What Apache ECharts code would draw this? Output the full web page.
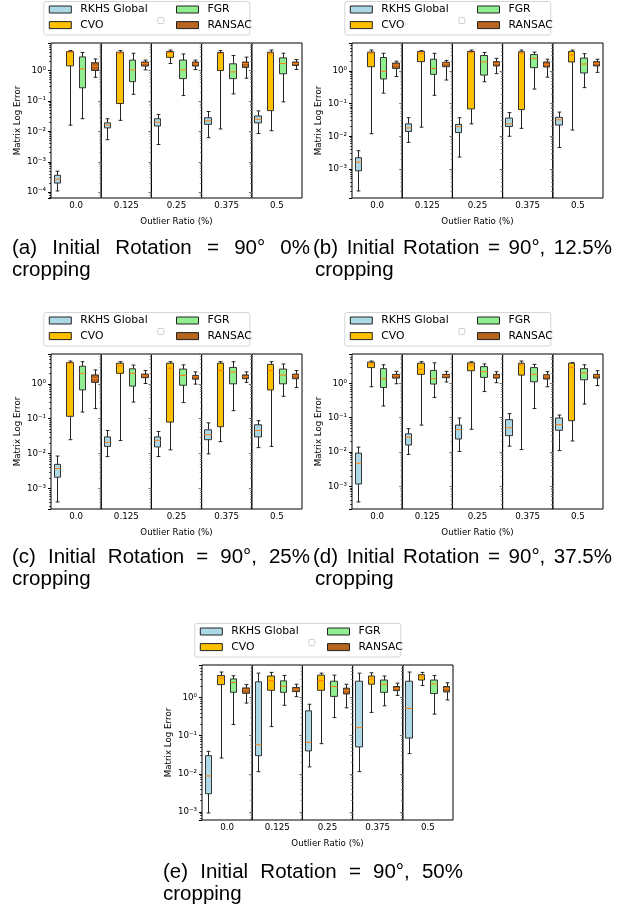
<!DOCTYPE html>
<html><head><meta charset="utf-8">
<script src="https://cdn.jsdelivr.net/npm/echarts@6/dist/echarts.min.js"></script>
<style>html,body{margin:0;padding:0;background:#fff}#c{width:618px;height:905px}</style>
</head><body><div id="c"></div>
<script>
// ---------- DATA ----------
const methods = ['RKHS Global', 'CVO', 'FGR', 'RANSAC'];
const ratioLabels = ['0.0', '0.125', '0.25', '0.375', '0.5'];
const xAxisTitle = 'Outlier Ratio (%)';
const yAxisTitle = 'Matrix Log Error';
// each box: [whiskerLow, Q1, median, Q3, whiskerHigh], one per outlier ratio
// (a) 0% cropping
const a_rkhs   = [[1.1e-4,2.0e-4,2.7e-4,3.6e-4,4.9e-4],[0.0053,0.013,0.016,0.019,0.026],[0.0037,0.015,0.020,0.026,0.036],[0.0062,0.017,0.022,0.028,0.045],[0.0085,0.019,0.025,0.032,0.047]];
const a_cvo    = [[0.016,1.42,4.0,4.2,4.5],[0.023,0.082,3.7,4.0,4.5],[1.7,2.7,3.9,4.2,4.7],[0.012,1.0,3.6,3.9,4.5],[0.0105,0.048,3.5,4.0,4.7]];
const a_fgr    = [[0.026,0.27,1.13,2.8,3.9],[0.165,0.43,1.05,2.2,3.7],[0.15,0.54,1.05,2.2,3.5],[0.17,0.54,0.9,1.66,3.1],[0.093,0.78,1.7,2.6,3.7]];
const a_ransac = [[0.6,1.0,1.4,1.8,2.4],[1.05,1.4,1.7,1.9,2.2],[1.08,1.4,1.66,1.9,2.2],[0.56,1.25,1.7,1.9,2.75],[1.08,1.46,1.7,1.9,2.3]];
// (b) 12.5% cropping
const b_rkhs   = [[2.1e-4,8.7e-4,1.6e-3,2.2e-3,3.6e-3],[0.0065,0.014,0.018,0.024,0.037],[0.0023,0.013,0.0196,0.023,0.037],[0.010,0.020,0.024,0.036,0.053],[0.0045,0.022,0.032,0.038,0.055]];
const b_cvo    = [[0.012,1.36,3.5,3.8,4.4],[0.019,1.94,3.5,4.0,4.2],[0.024,0.069,3.7,4.0,4.4],[0.0175,0.066,3.5,3.9,4.4],[0.0155,1.9,3.1,4.0,4.4]];
const b_fgr    = [[0.21,0.57,0.98,2.6,3.5],[0.18,0.79,1.2,2.3,3.5],[0.47,0.75,1.9,3.0,3.7],[0.28,1.27,2.45,3.2,3.8],[0.31,0.87,1.64,2.5,3.4]];
const b_ransac = [[0.68,1.2,1.53,1.76,2.0],[0.53,1.36,1.68,1.85,2.1],[0.83,1.43,1.68,1.94,2.45],[0.65,1.33,1.6,1.9,2.3],[0.91,1.43,1.72,1.94,2.3]];
// (c) 25% cropping
const c_rkhs   = [[4.1e-4,0.0021,0.0037,0.0049,0.0085],[0.0082,0.016,0.021,0.030,0.046],[0.0082,0.0155,0.024,0.030,0.043],[0.0098,0.025,0.035,0.048,0.076],[0.0148,0.030,0.046,0.067,0.088]];
const c_cvo    = [[0.025,0.117,3.9,4.1,4.5],[0.0236,2.0,3.3,3.9,4.3],[0.0128,0.080,2.8,3.9,4.3],[0.022,0.059,2.4,3.9,4.3],[0.016,0.67,2.4,3.6,4.3]];
const c_fgr    = [[0.155,0.67,2.0,3.2,4.3],[0.30,0.86,2.0,2.7,3.45],[0.29,0.91,1.74,2.65,3.5],[0.17,1.0,2.2,2.95,4.3],[0.44,1.0,1.78,2.65,3.7]];
const c_ransac = [[0.195,1.1,1.4,1.8,2.5],[1.02,1.5,1.7,1.9,2.4],[0.98,1.36,1.6,1.74,2.2],[1.1,1.4,1.6,1.8,2.2],[0.78,1.4,1.7,1.9,2.4]];
// (d) 37.5% cropping
const d_rkhs   = [[3.5e-4,0.00117,0.0047,0.0093,0.0139],[0.0085,0.016,0.027,0.034,0.048],[0.0104,0.024,0.045,0.061,0.098],[0.0148,0.030,0.051,0.088,0.132],[0.011,0.043,0.063,0.098,0.12]];
const d_cvo    = [[0.8,2.9,3.7,4.2,4.5],[0.061,1.84,2.6,3.9,4.3],[0.046,2.35,3.4,4.0,4.3],[0.0118,1.75,3.45,3.9,4.5],[0.021,0.082,2.9,3.9,4.1]];
const d_fgr    = [[0.22,0.76,1.37,2.7,3.5],[0.39,0.96,1.37,2.4,4.0],[0.58,1.5,2.2,3.1,3.7],[0.185,1.12,1.84,2.9,3.6],[0.25,1.28,2.0,2.7,3.5]];
const d_ransac = [[0.98,1.43,1.68,1.84,2.25],[1.1,1.47,1.68,1.84,2.25],[1.05,1.43,1.64,1.84,2.2],[0.8,1.34,1.64,1.8,2.2],[0.87,1.43,1.68,1.84,2.35]];
// (e) 50% cropping
const e_rkhs   = [[9.4e-4,0.0030,0.0088,0.030,0.039],[0.0114,0.030,0.058,2.6,4.4],[0.0152,0.040,0.067,0.45,0.67],[0.0114,0.051,0.163,2.7,4.4],[0.034,0.087,0.52,2.7,4.7]];
const e_cvo    = [[0.026,2.2,3.25,3.8,4.7],[0.174,1.56,2.8,3.7,4.6],[0.062,1.56,2.8,3.9,4.4],[0.41,2.25,3.1,3.7,4.5],[2.08,2.9,3.5,4.0,4.6]];
const e_fgr    = [[0.196,1.38,2.5,3.1,3.75],[0.63,1.38,2.0,2.76,3.8],[0.30,1.08,1.96,2.7,3.9],[0.61,1.38,2.25,2.9,3.7],[0.37,1.28,2.3,2.9,3.8]];
const e_ransac = [[0.72,1.3,1.6,1.8,2.2],[1.06,1.44,1.66,1.84,2.25],[0.54,1.25,1.53,1.77,2.25],[1.15,1.53,1.73,1.96,2.4],[0.87,1.41,1.73,1.96,2.45]];

const captionLines = [
  ['(a)','Initial','Rotation','=','90°','0%'],
  ['(b)','Initial','Rotation','=','90°,','12.5%'],
  ['(c)','Initial','Rotation','=','90°,','25%'],
  ['(d)','Initial','Rotation','=','90°,','37.5%'],
  ['(e)','Initial','Rotation','=','90°,','50%']
];
const captionLine2 = 'cropping';

// ---------- LAYOUT / STYLE ----------
const subplotData = [
  [a_rkhs, a_cvo, a_fgr, a_ransac],
  [b_rkhs, b_cvo, b_fgr, b_ransac],
  [c_rkhs, c_cvo, c_fgr, c_ransac],
  [d_rkhs, d_cvo, d_fgr, d_ransac],
  [e_rkhs, e_cvo, e_fgr, e_ransac]
];
const layout = [
  {left: 51,  top: 43,  capX0: 12,  capX1: 310, capY: 248.5, cropX: 12,  cropY: 270.5},
  {left: 352, top: 43,  capX0: 313, capX1: 612, capY: 248.5, cropX: 315, cropY: 270.5},
  {left: 51,  top: 354, capX0: 12,  capX1: 310, capY: 557.5, cropX: 12,  cropY: 579.5},
  {left: 352, top: 354, capX0: 313, capX1: 612, capY: 557.5, cropX: 315, cropY: 579.5},
  {left: 202, top: 665, capX0: 163, capX1: 463, capY: 872.5, cropX: 163, cropY: 894}
];
const PW = 251, PH = 155;
const methodColors = ['#add8e6', '#ffc000', '#90ee90', '#b5651d'];
const FONT = '"DejaVu Sans", sans-serif';
const CAP_FONT = '20.5px "Liberation Sans", Arial, sans-serif';

const SUP = {'-':'⁻','0':'⁰','1':'¹','2':'²','3':'³','4':'⁴','5':'⁵','6':'⁶','7':'⁷','8':'⁸','9':'⁹'};
function fmtLog(v) {
  const e = Math.log10(v), r = Math.round(e);
  if (Math.abs(e - r) > 1e-6) return '';
  return '10' + String(r).split('').map(ch => SUP[ch]).join('');
}

function renderBox(params, api) {
  const k = api.value(0);
  const band = api.size([1, 1])[0];
  const bw = band * 0.6, cw = bw * 0.5;
  const pMed = api.coord([k, api.value(3)]);
  const yMin = api.coord([k, api.value(1)])[1];
  const yQ1 = api.coord([k, api.value(2)])[1];
  const yMed = pMed[1];
  const yQ3 = api.coord([k, api.value(4)])[1];
  const yMax = api.coord([k, api.value(5)])[1];
  const cx = pMed[0];
  const lx = Math.round(cx) + 0.5;
  const bx0 = Math.round(cx - bw / 2) + 0.5;
  const bx1 = Math.round(cx + bw / 2) - 0.5;
  const color = api.visual('color');
  const ln = (x1, y1, x2, y2, stroke) => ({type: 'line', shape: {x1, y1, x2, y2}, style: {stroke, lineWidth: 1}});
  return {type: 'group', children: [
    ln(lx, yQ1, lx, yMin, '#222'),
    ln(lx, yQ3, lx, yMax, '#222'),
    ln(lx - cw / 2, yMin, lx + cw / 2, yMin, '#222'),
    ln(lx - cw / 2, yMax, lx + cw / 2, yMax, '#222'),
    {type: 'rect', shape: {x: bx0, y: yQ3, width: bx1 - bx0, height: yQ1 - yQ3}, style: {fill: color, stroke: '#333', lineWidth: 1}},
    ln(bx0, yMed, bx1, yMed, '#ff7f0e')
  ]};
}

const measureCtx = document.createElement('canvas').getContext('2d');
measureCtx.font = CAP_FONT;
function justify(words, x0, x1, y) {
  const widths = words.map(w => measureCtx.measureText(w).width);
  const total = widths.reduce((s, v) => s + v, 0);
  const gap = (x1 - x0 - total) / (words.length - 1);
  const out = [];
  let x = x0;
  words.forEach((w, i) => {
    out.push({type: 'text', x: x, y: y, style: {text: w, font: CAP_FONT, fill: '#000', align: 'left', verticalAlign: 'middle'}});
    x += widths[i] + gap;
  });
  return out;
}

const grids = [], xAxes = [], yAxes = [], series = [], legends = [], graphics = [];

layout.forEach((lay, s) => {
  const sets = subplotData[s];
  let lo = Infinity, hi = -Infinity;
  sets.forEach(m => m.forEach(b => { lo = Math.min(lo, b[0]); hi = Math.max(hi, b[4]); }));
  const llo = Math.log10(lo), lhi = Math.log10(hi), pad = 0.05 * (lhi - llo);
  const yMin = Math.pow(10, llo - pad), yMax = Math.pow(10, lhi + pad);
  const pw = PW / 5;
  for (let r = 0; r < 5; r++) {
    const gi = grids.length;
    grids.push({left: lay.left + r * pw, top: lay.top, width: pw, height: PH, show: true,
      borderColor: '#000', borderWidth: 1, backgroundColor: 'transparent', containLabel: false});
    xAxes.push({gridIndex: gi, type: 'category', data: methods, boundaryGap: true,
      axisLine: {show: false}, axisTick: {show: false}, axisLabel: {show: false}, splitLine: {show: false},
      name: ratioLabels[r], nameLocation: 'middle', nameGap: 3,
      nameTextStyle: {fontSize: 8.7, fontFamily: FONT, color: '#000'}});
    const tickColor = r === 0 ? '#000' : '#777';
    yAxes.push({gridIndex: gi, type: 'log', logBase: 10, min: yMin, max: yMax,
      axisLine: {show: false}, splitLine: {show: false}, minorSplitLine: {show: false},
      axisTick: {show: true, length: 3, lineStyle: {color: tickColor, width: 1}},
      minorTick: {show: true, splitNumber: 9, length: 1.8, lineStyle: {color: tickColor, width: 0.8}},
      axisLabel: {show: r === 0, formatter: fmtLog, fontSize: 8.7, fontFamily: FONT, color: '#000', margin: 5,
        showMinLabel: true, showMaxLabel: true},
      name: r === 0 ? yAxisTitle : '', nameLocation: 'middle', nameGap: 29, nameRotate: 90,
      nameTextStyle: {fontSize: 8.7, fontFamily: FONT, color: '#000'}});
    methods.forEach((m, k) => {
      series.push({type: 'custom', name: m, xAxisIndex: gi, yAxisIndex: gi, renderItem: renderBox,
        encode: {x: 0, y: [1, 2, 3, 4, 5]}, clip: false,
        itemStyle: {color: methodColors[k], borderColor: '#222', borderWidth: 1},
        data: [[k].concat(sets[k][r])]});
    });
  }
  // legend frame + legends
  const bx = lay.left - 7.7, by = lay.top - 42;
  graphics.push({type: 'rect', z: 1, shape: {x: bx + 0.5, y: by + 0.5, width: 206, height: 33.5, r: 2},
    style: {fill: '#fff', stroke: '#d5d5d5', lineWidth: 1}});
  graphics.push({type: 'rect', z: 2, shape: {x: bx + 114.5, y: by + 16.5, width: 6, height: 6, r: 1},
    style: {fill: '#fff', stroke: '#cfcfcf', lineWidth: 1}});
  const legBase = {orient: 'vertical', itemWidth: 22, itemHeight: 7, itemGap: 2.6, icon: 'rect', padding: 0,
    selectedMode: false, z: 5,
    itemStyle: {borderColor: '#222', borderWidth: 1},
    textStyle: {fontSize: 10.8, fontFamily: FONT, color: '#000', lineHeight: 13, padding: [0, 0, 0, 4]}};
  legends.push(Object.assign({}, legBase, {left: bx + 5.5, top: by + 2, data: ['RKHS Global', 'CVO']}));
  legends.push(Object.assign({}, legBase, {left: bx + 132.7, top: by + 2, data: ['FGR', 'RANSAC']}));
  // x-axis title
  graphics.push({type: 'text', x: lay.left + PW / 2, y: lay.top + PH + 23.5,
    style: {text: xAxisTitle, font: '8.7px ' + FONT, fill: '#000', align: 'center', verticalAlign: 'middle'}});
  // caption
  justify(captionLines[s], lay.capX0, lay.capX1, lay.capY).forEach(g => graphics.push(g));
  graphics.push({type: 'text', x: lay.cropX, y: lay.cropY,
    style: {text: captionLine2, font: CAP_FONT, fill: '#000', align: 'left', verticalAlign: 'middle'}});
});

const chart = echarts.init(document.getElementById('c'), null, {renderer: 'canvas'});
chart.setOption({
  animation: false,
  backgroundColor: '#fff',
  grid: grids, xAxis: xAxes, yAxis: yAxes, series: series,
  legend: legends,
  graphic: {elements: graphics}
});
</script>
</body></html>
